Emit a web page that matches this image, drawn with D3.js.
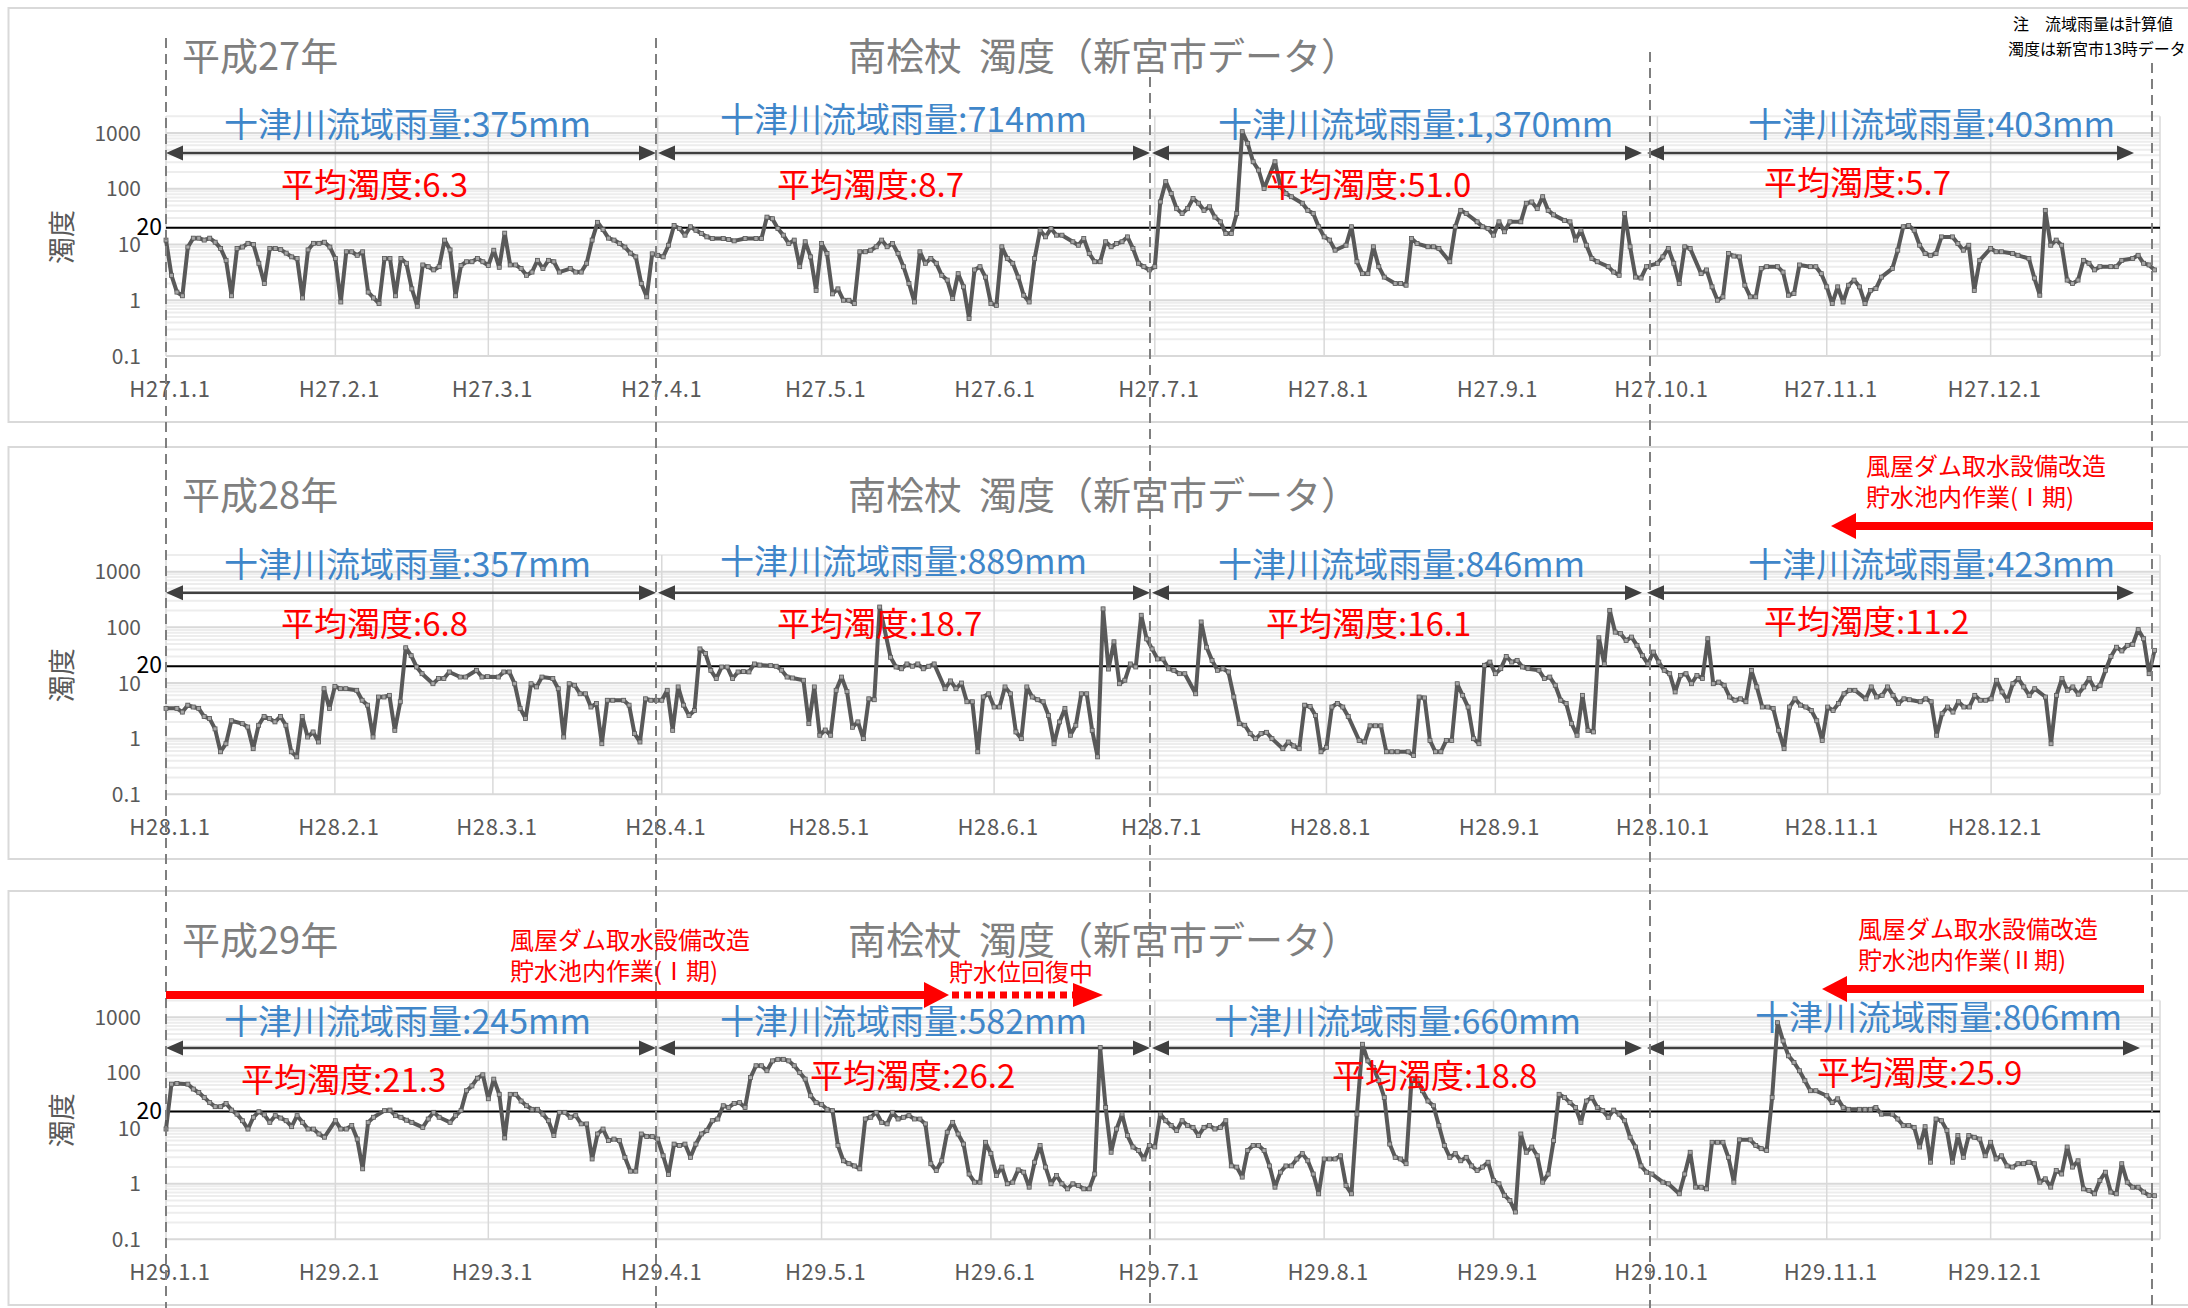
<!DOCTYPE html>
<html>
<head>
<meta charset="utf-8">
<script src="https://cdn.jsdelivr.net/npm/d3@7"></script>
<style>
  body { margin: 0; background: #fff; }
  svg { display: block; font-family: "Noto Sans CJK JP", "Noto Sans", sans-serif; }
</style>
</head>
<body>
<svg id="chart" width="2188" height="1308"></svg>
<script>
// ---- データ ----
const eras = ["H27", "H28", "H29"];
const yearTitles = ["平成27年", "平成28年", "平成29年"];
const years = [2015, 2016, 2017];
const chartTitle = "南桧杖  濁度（新宮市データ）";
const rainLabel = "十津川流域雨量:";
const avgLabel = "平均濁度:";
const rainfall = [
    ["375mm", "714mm", "1,370mm", "403mm"],
    ["357mm", "889mm", "846mm", "423mm"],
    ["245mm", "582mm", "660mm", "806mm"]
];
const avgTurbidity = [
    ["6.3", "8.7", "51.0", "5.7"],
    ["6.8", "18.7", "16.1", "11.2"],
    ["21.3", "26.2", "18.8", "25.9"]
];
const yTicks = [0.1, 1, 10, 100, 1000];
const limitValue = 20;
const notes = ["注　流域雨量は計算値", "濁度は新宮市13時データ"];
const workPhase1 = ["風屋ダム取水設備改造", "貯水池内作業(Ⅰ期)"];
const workPhase2 = ["風屋ダム取水設備改造", "貯水池内作業(Ⅱ期)"];
const recovering = "貯水位回復中";

// [1月1日からの日数, 濁度]
const turb27 = [[0,12],[1,2.8],[2,1.4],[3,1.2],[4,9],[5,13],[6,13],[7,12],[8,13],[9,11],[10,8.5],[11,5.2],[12,1.2],[13,8.5],[14,9],[15,10.5],[16,10],[17,4.6],[18,2],[19,8.5],[20,8.5],[21,8.1],[22,7],[23,6],[24,5.6],[25,1.1],[26,8],[27,10.5],[28,10.5],[29,11],[30,9],[31,5.6],[32,0.93],[33,7.4],[34,7.4],[35,6.4],[36,7.4],[37,1.4],[38,1.1],[39,0.87],[40,5.6],[41,5.6],[42,1.2],[43,5.6],[44,4.6],[45,1.6],[46,0.78],[47,4.3],[48,4],[49,3.5],[50,4],[51,12],[52,8],[53,1.2],[54,4.2],[55,4.9],[56,4.9],[57,5.6],[58,4.9],[59,4.2],[60,7.9],[61,3.9],[62,16],[63,4.3],[64,4.3],[65,3.7],[66,2.8],[67,3.2],[68,5.2],[69,3.7],[70,5.2],[71,4.9],[72,3.2],[74,3.7],[75,3.2],[76,3.2],[77,4.6],[78,12],[79,25],[80,18.5],[81,13],[82,12],[83,10.5],[84,9],[85,7],[86,6],[87,2],[88,1.15],[89,6.8],
    [90,6.4],[91,6],[92,9.7],[93,22],[94,19.4],[95,14.7],[96,20.8],[97,18],[98,15.8],[99,13.7],[100,12.8],[102,12.8],[103,12.3],[104,11.6],[106,12.8],[108,12.8],[109,12.8],[110,31],[111,29],[112,19.4],[113,14.7],[114,10.4],[115,12],[116,4],[117,11.2],[118,6],[119,1.5],[120,10.4],[121,6.9],[122,1.3],[123,1.6],[124,1],[125,1],[126,0.87],[127,7.4],[128,7.4],[129,7.9],[130,9.1],[131,12],[132,9.1],[133,10.4],[134,6.9],[135,4],[136,2],[137,0.93],[138,7.4],[139,4.6],[140,5.6],[141,4.6],[142,2.8],[143,2.3],[144,1.07],[145,3],[146,1.74],[147,0.47],[148,3.5],[149,4],[150,2.6],[151,0.87],[152,0.81],[153,9.1],[154,5.6],[155,4.6],[156,2.6],[157,1.23],[158,0.93],[159,5.6],[160,18],[161,13.7],[162,19.4],[163,14.7],[164,14.7],[166,11.2],[167,9.7],[168,12.8],[169,6.9],[170,4.9],[171,4.9],[172,11.2],[173,9.1],[174,10.4],[175,11.2],[176,13.7],[177,8.5],[178,4.6],[179,4],[180,3.5],[181,4],
    [182,58],[183,134],[184,82],[185,44],[186,36],[187,44],[188,67],[189,55],[190,41],[191,47.5],[192,31],[193,25.5],[194,15.8],[195,15.8],[196,36],[197,1057],[198,652],[199,305],[200,216],[201,101],[203,305],[204,109],[205,82],[206,72],[208,55],[209,41],[210,36],[211,20.8],[212,13.7],[213,12],[214,7.9],[216,9.7],[217,20.8],[218,4.9],[219,3],[220,3],[221,9.1],[222,4],[223,2.6],[225,2],[226,2],[227,1.86],[228,12.8],[229,10.4],[231,9.1],[232,9.1],[233,8.5],[235,4.9],[236,20.8],[237,41],[238,36],[240,25.5],[241,20.8],[242,19.4],[243,14.7],[244,25.5],[245,16.9],[246,25.5],[248,25.5],[249,55],[250,58],[251,44],[252,72],[253,41],[254,34],[256,27],[257,25.5],[258,12],[259,18],[260,9.7],[261,5.6],[262,4.9],[264,4],[265,3.2],[266,2.8],[267,36],[268,9.1],[269,2.6],[270,2.5],[271,4],[273,4.6],
    [274,6],[275,8.5],[276,4.6],[277,2],[278,9.1],[279,8.5],[281,3],[282,3.5],[283,1.74],[284,1],[285,1.15],[286,6.9],[287,6.2],[288,6],[289,1.86],[290,1.15],[291,1.15],[292,3.7],[293,4],[295,4],[296,3.2],[297,1.23],[298,1.32],[299,4.3],[301,4],[302,4],[303,3],[304,1.74],[305,0.87],[306,1.74],[307,0.93],[308,1.86],[309,2.3],[310,1.74],[311,0.87],[312,1.5],[313,1.62],[314,2.6],[316,3.7],[317,7.9],[318,20.8],[319,22],[320,18],[321,9.7],[322,6.9],[323,6.4],[324,6.9],[325,13.7],[327,13.7],[328,10.4],[329,7.9],[330,9.7],[331,1.5],[332,5.2],[334,8.5],[335,7.4],[336,7.4],[338,6.9],[339,6.4],[341,5.6],[342,2.5],[343,1.23],[344,41],[345,9.7],[346,12],[347,9.7],[348,2.3],[349,2],[350,2.3],[351,5.2],[352,4.6],[353,3.5],[354,4],[356,4],[357,4],[358,5.2],[360,5.6],[361,6.4],[362,4.6],[363,4.3],[364,3.5]];

const turb28 = [[0,3.5],[2,3.5],[3,3],[4,4],[5,3.7],[6,3.5],[7,2.5],[8,2.3],[9,1.5],[10,0.58],[11,0.81],[12,2.1],[14,1.86],[15,1.62],[16,0.66],[17,1.74],[18,2.5],[19,2.3],[20,2],[21,2.5],[22,1.74],[23,0.58],[24,0.47],[25,2.5],[26,1.07],[27,1.32],[28,0.87],[29,7.9],[30,3.5],[31,8.7],[32,7.9],[33,7.9],[35,7.4],[36,4.9],[37,4],[38,1.07],[39,5.6],[40,5.6],[41,6],[42,1.41],[43,4.6],[44,43],[45,31],[46,19.4],[47,14.7],[49,9.7],[50,12],[51,12],[52,15.8],[54,12.8],[55,12.8],[57,16.9],[58,12.8],[59,13],[61,12.8],[62,15.8],[63,15.8],[64,9.7],[65,3.5],[66,2.3],[67,9.7],[68,8.5],[69,12.8],[71,12],[72,7.9],[73,1.07],[74,9.7],[75,9.1],[76,6.4],[77,6.4],[78,3.7],[79,4.3],[80,0.81],[81,4.9],[82,4.9],[84,4.9],[85,4],[86,1.23],[87,0.87],[88,5.2],[89,4.9],[90,4.9],[91,4.9],[92,7.4],[93,1.41],[94,8.5],[95,4],[96,2.6],[97,3.2],[98,41],[99,34],[100,16.9],[101,12],[102,19.4],[103,19.4],[104,12],
    [105,15.8],[106,16],[107,15.8],[108,22],[109,21],[111,20.5],[112,20],[113,17],[114,12.8],[115,12.3],[117,11.2],[118,1.86],[119,8.5],[120,1.15],[121,1.43],[122,1.15],[123,7.4],[124,12.8],[125,7],[126,1.6],[127,2],[128,1],[129,5.2],[130,5],[131,232],[133,29],[134,19.4],[135,18],[136,22],[137,20],[138,22],[139,18],[140,20],[141,22],[143,7.9],[144,10.9],[145,7.9],[146,10],[147,4.6],[148,4.6],[149,0.58],[150,5.6],[151,6.4],[152,3.7],[153,3.7],[154,8.5],[155,6.4],[156,1.32],[157,1],[158,8.5],[159,5.6],[160,5],[161,4.6],[162,2.6],[163,0.81],[164,2],[165,3.5],[166,1.15],[167,1.74],[168,6.4],[169,6.4],[170,1.41],[171,0.47],[172,215],[173,17.8],[174,55],[175,9.7],[176,11.2],[177,22],[178,19.4],[179,165],[180,62],[181,41],
    [182,27],[183,27],[184,18],[185,16.9],[186,14.7],[187,14.7],[189,6.4],[190,125],[191,44],[192,25.5],[193,16.9],[194,18],[195,15.8],[196,5.6],[197,1.86],[198,1.74],[199,1.23],[200,1],[201,1.23],[202,1.3],[203,1],[205,0.66],[206,0.87],[207,0.74],[208,0.66],[209,4],[210,3.8],[211,2.6],[212,0.58],[213,0.7],[214,3.7],[215,4.3],[216,3.7],[217,2.5],[219,0.93],[220,0.87],[221,1.7],[222,1.7],[223,1.7],[224,0.58],[225,0.58],[226,0.58],[228,0.58],[229,0.5],[230,5.6],[231,5.4],[232,0.93],[233,0.58],[234,0.58],[235,0.93],[236,0.93],[237,9.7],[238,6],[239,3.7],[240,1],[241,0.81],[242,20.8],[243,23.8],[244,14.7],[245,18.1],[246,30],[247,23.8],[248,25.5],[249,19.4],[250,18.1],[252,16.9],[253,12],[254,12.8],[255,9.1],[256,4.9],[257,4.3],[258,1.86],[259,1.15],[260,6],[261,1.41],[262,1.32],[263,65],[264,22],[265,202],[266,82],[267,77],[268,58],[269,67],[270,47.5],[271,31],[272,22],[273,36],
    [274,23.8],[275,16.9],[276,14.7],[277,6.9],[278,13.7],[279,14.7],[280,9.7],[281,13.7],[282,12],[283,62.5],[284,9.7],[285,10.4],[286,9.1],[287,5.6],[288,4.9],[289,5.2],[290,4.6],[291,16.9],[292,8.5],[293,3.7],[294,3.7],[295,3.5],[296,1.41],[297,0.66],[298,3.7],[299,5.2],[300,4],[301,3.7],[302,3.2],[303,2.1],[304,0.93],[305,3.7],[306,3.2],[307,4.3],[308,6.4],[309,7.4],[310,7.4],[312,5.2],[313,8.5],[314,5.6],[315,6],[316,8.5],[317,6],[318,4.3],[319,5.2],[320,5],[322,4.6],[323,5.2],[324,4.6],[325,1.15],[326,2.8],[327,3.7],[328,3],[329,4.6],[330,3.7],[331,3.7],[332,6],[333,4.9],[334,4.9],[335,5.2],[336,11.2],[337,6.9],[338,4.9],[339,9.7],[340,12],[341,8.5],[342,6],[343,7.9],[345,5.6],[346,0.81],[347,6],[348,12],[349,7.4],[350,8.5],[351,6.3],[352,8.5],[353,12],[354,7.9],[355,9.1],[356,16.9],[357,30],[358,44],[359,37.6],[360,47.5],[361,49.5],[362,91],[363,62.5],[364,14.7],[365,38.6]];

const turb29 = [[0,9.7],[1,62.5],[2,64],[4,62.5],[5,51],[6,44],[7,36],[8,29],[9,24.5],[10,24.5],[11,28],[12,21.3],[13,18],[14,13.7],[15,9.7],[16,15.8],[17,19.9],[18,17.5],[19,12.8],[20,16.9],[21,15.3],[22,13.7],[23,10.7],[24,16.9],[25,12.8],[26,9.7],[27,9.7],[28,7.9],[29,6.9],[31,13.7],[32,9.7],[33,9.7],[34,11.2],[35,6.4],[36,1.86],[37,12.8],[38,15.8],[40,20.8],[41,21.3],[42,16.9],[43,15.8],[44,14],[45,12.8],[47,10.4],[48,14.7],[49,19.4],[50,15.8],[52,12.8],[53,16.9],[54,20.8],[55,47.5],[56,58],[57,80],[58,92],[59,34],[60,77],[61,41],[62,6.7],[63,41],[64,41],[65,31],[66,25.5],[67,22],[68,22],[69,18],[70,13.7],[71,7.4],[72,19.4],[73,19.4],[74,15.8],[75,16.9],[76,12],[77,12],[78,2.8],[79,7.9],[80,9.7],[81,6],[82,6.4],[83,6],[84,3],[85,1.69],[86,1.69],[87,7.9],[88,7.1],[89,7.1],[90,6.4],[91,3.2],[92,1.47],[93,5.2],[94,4.9],[95,5.2],[96,3],[97,5.2],[98,7.9],[99,9.1],[100,13.7],[101,14.7],[102,25.5],[103,23.8],[104,28],
    [105,29],[106,23.8],[107,82],[108,134],[109,134],[110,109],[111,164],[112,175],[113,175],[114,164],[115,134],[116,101],[117,77],[118,38.6],[119,29],[120,27],[121,22],[122,20.8],[123,4.9],[124,2.6],[125,2.3],[126,2.1],[127,1.86],[128,14.7],[129,15.8],[130,19.4],[131,12.8],[132,12],[133,19.4],[134,14.7],[135,15.8],[136,16.9],[137,14.7],[138,14.7],[139,12],[140,2.3],[141,1.74],[142,2.6],[143,8.5],[144,12.8],[145,7.9],[146,5.2],[147,1.5],[148,1.07],[149,1.07],[150,5.6],[151,3.5],[152,1.41],[153,2],[154,1],[155,1.07],[156,1.78],[157,1.62],[158,0.87],[159,2.45],[160,4.9],[161,2],[162,1],[163,1.41],[164,1],[165,0.81],[166,1],[167,0.93],[168,0.81],[169,0.81],[170,1.5],[171,285],[172,23.8],[173,3.7],[174,9.7],[175,18],[176,7.4],[177,4.6],[178,4],[179,2.8],[180,4.9],[181,4.6],
    [182,18],[183,13.7],[184,11.2],[185,9.1],[186,13.7],[187,11.2],[188,10.4],[189,7.4],[190,10.4],[191,11.2],[192,9.7],[193,10.4],[194,13.7],[195,2.1],[196,2],[197,1.32],[198,4],[199,4.9],[200,4.9],[201,4],[202,2.1],[203,0.87],[204,1.62],[205,2.1],[206,2.1],[207,2.8],[208,3.5],[209,2.6],[210,1.5],[211,0.66],[212,2.8],[213,2.8],[214,2.8],[215,3.2],[216,0.93],[217,0.66],[218,18],[219,327],[220,164],[221,125],[222,72],[223,36],[224,5.2],[225,3],[226,2.8],[227,2.3],[228,77],[229,72],[230,47.5],[231,31],[232,25.5],[233,11.2],[234,4.9],[235,3],[236,3.5],[237,2.6],[238,3],[239,2.1],[240,1.74],[241,2],[242,2.45],[243,1.15],[244,1],[245,0.62],[246,0.5],[247,0.31],[248,7.9],[249,3.7],[250,4.6],[251,3.2],[252,1.07],[253,1.5],[254,6],[255,41],[256,36],[257,29],[258,23.8],[259,12.8],[260,31],[261,36],[262,23.8],[263,20.8],[264,15.8],[265,21.3],[266,18],[267,13.7],[268,6.9],[269,4.6],[270,2.1],[271,1.62],[272,1.5],
    [274,1.07],[275,1],[277,0.66],[278,1.5],[279,3.7],[280,0.87],[281,0.87],[282,0.81],[283,5.6],[284,5.6],[285,5.6],[286,3],[287,1.07],[288,6.2],[290,6.2],[291,4.9],[292,4.3],[293,4],[294,36],[295,800],[296,375],[297,202],[298,154],[299,109],[300,72],[301,47.5],[302,47.5],[304,38.6],[305,29],[306,34],[307,23.8],[308,22],[310,22],[311,22],[312,22],[313,23.8],[314,18],[316,18],[317,14.7],[318,11.2],[319,11.2],[320,10.4],[321,4.6],[322,10.7],[323,2.45],[324,14.7],[325,13.7],[326,9.1],[327,2.45],[328,7.4],[329,3],[330,7.4],[331,6.9],[332,6.4],[333,3.2],[334,5.6],[335,2.8],[336,3.2],[337,2.1],[338,2],[339,2.3],[340,2.3],[341,2.45],[342,2.3],[343,1.07],[344,1.23],[345,0.87],[346,1.74],[347,1.5],[348,4.6],[349,2],[350,2.6],[351,0.81],[352,0.76],[353,0.66],[354,1.15],[355,1.62],[356,0.71],[357,0.66],[358,2.3],[359,1.07],[360,0.87],[361,0.87],[362,0.71],[363,0.62],[364,0.61]];

const series = [turb27, turb28, turb29];

// ---- レイアウト ----
const svg = d3.select("#chart");
const plotL = 166, plotR = 2160;
const boxTop = [8, 447, 891], boxBot = [422, 859, 1305];
const yMin = [356, 794.3, 1239.3];    // 0.1 の位置
const yMax = [133, 571.7, 1017.3];    // 1000 の位置
const rainX = [[224, 720, 1218, 1748], [224, 720, 1218, 1748], [224, 720, 1214, 1755]];
const rainY = [[137, 132, 137, 137], [577, 574, 577, 577], [1034, 1034, 1034, 1030]];
const avgX = [[281, 777, 1266, 1764], [281, 777, 1266, 1764], [241, 810, 1332, 1817]];
const avgY = [[197, 197, 197, 195], [636, 636, 636, 634], [1092, 1088, 1088, 1085]];
const arrowY = [153, 592.7, 1048];
const dashX = [166, 656, 1150, 1650, 2152];
const dashTop = [38, 38, 77, 52, 63];

const GRID = "#d9d9d9", MINOR = "#ededed", TXT = "#595959";

// 背景の枠
for (let p = 0; p < 3; p++) {
    svg.append("rect")
        .attr("x", 8.5).attr("y", boxTop[p])
        .attr("width", 2200).attr("height", boxBot[p] - boxTop[p])
        .attr("fill", "#fff").attr("stroke", GRID).attr("stroke-width", 2);
}

for (let p = 0; p < 3; p++) {
    const yr = years[p];
    const x = d3.scaleTime()
        .domain([new Date(yr, 0, 1), new Date(yr + 1, 0, 1)])
        .range([plotL, plotR]);
    const y = d3.scaleLog().domain([0.1, 1000]).range([yMin[p], yMax[p]]);
    const g = svg.append("g");

    // 補助目盛線
    const minor = [];
    yTicks.forEach(t => { for (let k = 2; k <= 9; k++) if (t * k <= 2000) minor.push(t * k); });
    g.selectAll(".minor").data(minor).join("line")
        .attr("x1", plotL).attr("x2", plotR)
        .attr("y1", d => y(d)).attr("y2", d => y(d))
        .attr("stroke", MINOR).attr("stroke-width", 2);
    g.selectAll(".major").data(yTicks).join("line")
        .attr("x1", plotL).attr("x2", plotR)
        .attr("y1", d => y(d)).attr("y2", d => y(d))
        .attr("stroke", GRID).attr("stroke-width", 2);

    // 月の縦線
    const months = d3.range(0, 13).map(m => new Date(yr, m, 1));
    g.selectAll(".vgrid").data(months).join("line")
        .attr("x1", d => x(d)).attr("x2", d => x(d))
        .attr("y1", y(2000)).attr("y2", y(0.1))
        .attr("stroke", GRID).attr("stroke-width", 1.5);

    // 目盛ラベル
    g.selectAll(".xl").data(months.slice(0, 12)).join("text")
        .attr("x", d => x(d) + 4).attr("y", yMin[p] + 41)
        .attr("text-anchor", "middle").attr("font-size", 22)
        .attr("letter-spacing", 0.6).attr("fill", TXT)
        .text(d => `${eras[p]}.${d.getMonth() + 1}.1`);
    g.selectAll(".yl").data(yTicks).join("text")
        .attr("x", 141).attr("y", d => y(d)).attr("dy", "0.36em")
        .attr("text-anchor", "end").attr("font-size", 21).attr("fill", TXT)
        .text(d => d);
    g.append("text")
        .attr("transform", `translate(72,${yMin[p] - 119}) rotate(-90)`)
        .attr("text-anchor", "middle").attr("font-size", 27).attr("fill", TXT)
        .text("濁度");

    // 基準線 20
    g.append("line")
        .attr("x1", plotL).attr("x2", plotR)
        .attr("y1", y(limitValue)).attr("y2", y(limitValue))
        .attr("stroke", "#000").attr("stroke-width", 2);
    g.append("text")
        .attr("x", 162).attr("y", y(limitValue) + 7)
        .attr("text-anchor", "end").attr("font-size", 23).attr("fill", "#000")
        .text(limitValue);

    // タイトル
    g.append("text").attr("x", 182).attr("y", yMax[p] - 63)
        .attr("font-size", 38).attr("fill", "#7f7f7f").text(yearTitles[p]);
    g.append("text").attr("x", 848).attr("y", yMax[p] - 63)
        .attr("font-size", 38).attr("fill", "#7f7f7f")
        .attr("xml:space", "preserve").style("white-space", "pre")
        .text(chartTitle);

    // 期間の矢印と文字
    const ends = [[dashX[0], dashX[1]], [dashX[1] + 2, dashX[2]], [dashX[2] + 2, dashX[3] - 8], [dashX[3] - 3, p === 2 ? 2140 : 2134]];
    ends.forEach((e, q) => {
        drawDoubleArrow(g, e[0], e[1], arrowY[p]);
        g.append("text").attr("x", rainX[p][q]).attr("y", rainY[p][q])
            .attr("font-size", 34).attr("fill", "#3f86c9")
            .text(rainLabel + rainfall[p][q]);
    });

    // 濁度の折れ線
    const line = d3.line()
        .x(d => x(new Date(yr, 0, 1 + d[0])))
        .y(d => y(d[1]));
    g.append("path").datum(series[p])
        .attr("d", line).attr("fill", "none")
        .attr("stroke", "#595959").attr("stroke-width", 4)
        .attr("stroke-linejoin", "round");
    g.selectAll(".mk").data(series[p]).join("rect")
        .attr("x", d => x(new Date(yr, 0, 1 + d[0])) - 2)
        .attr("y", d => y(d[1]) - 2)
        .attr("width", 4).attr("height", 4)
        .attr("fill", "#a6a6a6").attr("stroke", "#595959").attr("stroke-width", 0.8);

    ends.forEach((e, q) => {
        g.append("text").attr("x", avgX[p][q]).attr("y", avgY[p][q])
            .attr("font-size", 33).attr("fill", "#ff0000")
            .text(avgLabel + avgTurbidity[p][q]);
    });
}

// 四半期の破線
dashX.forEach((dx, i) => {
    svg.append("line")
        .attr("x1", dx).attr("x2", dx)
        .attr("y1", dashTop[i]).attr("y2", 1308)
        .attr("stroke", "#7f7f7f").attr("stroke-width", 2)
        .attr("stroke-dasharray", "10,6");
});

// 注記
svg.append("text").attr("x", 2013).attr("y", 30).attr("font-size", 16).attr("fill", "#000").text(notes[0]);
svg.append("text").attr("x", 2008).attr("y", 55).attr("font-size", 16).attr("fill", "#000").text(notes[1]);

// 工事の注記(赤)
function redText(lines, x0, y0) {
    lines.forEach((t, i) => {
        svg.append("text").attr("x", x0).attr("y", y0 + i * 31)
            .attr("font-size", 24).attr("fill", "#ff0000").text(t);
    });
}
redText(workPhase1, 1866, 475);
redArrow(2152, 1831, 526);
redText(workPhase1, 510, 949);
redArrow(166, 949, 995);
svg.append("text").attr("x", 949).attr("y", 981).attr("font-size", 24).attr("fill", "#ff0000").text(recovering);
redDotted(952, 1103, 995);
redText(workPhase2, 1858, 938);
redArrow(2143, 1822, 989);

function drawDoubleArrow(g, x1, x2, yy) {
    const hl = 17, hw = 7.5;
    g.append("line").attr("x1", x1 + hl - 2).attr("x2", x2 - hl + 2)
        .attr("y1", yy).attr("y2", yy)
        .attr("stroke", "#404040").attr("stroke-width", 2.5);
    g.append("path")
        .attr("d", `M${x1},${yy}L${x1 + hl},${yy - hw}L${x1 + hl},${yy + hw}Z M${x2},${yy}L${x2 - hl},${yy - hw}L${x2 - hl},${yy + hw}Z`)
        .attr("fill", "#404040");
}

function redArrow(xTail, xTip, yy) {
    const dir = xTip > xTail ? 1 : -1;
    const hl = 25, hw = 13;
    const base = xTip - dir * hl;
    svg.append("rect")
        .attr("x", Math.min(xTail, base)).attr("y", yy - 4)
        .attr("width", Math.abs(base - xTail) + 1).attr("height", 8)
        .attr("fill", "#ff0000");
    svg.append("path")
        .attr("d", `M${xTip},${yy}L${base},${yy - hw}L${base},${yy + hw}Z`)
        .attr("fill", "#ff0000");
}

function redDotted(x1, xTip, yy) {
    const hl = 30, hw = 12;
    const base = xTip - hl;
    svg.append("line").attr("x1", x1).attr("x2", base)
        .attr("y1", yy).attr("y2", yy)
        .attr("stroke", "#ff0000").attr("stroke-width", 7)
        .attr("stroke-dasharray", "7,5");
    svg.append("path")
        .attr("d", `M${xTip},${yy}L${base},${yy - hw}L${base},${yy + hw}Z`)
        .attr("fill", "#ff0000");
}
</script>
</body>
</html>
